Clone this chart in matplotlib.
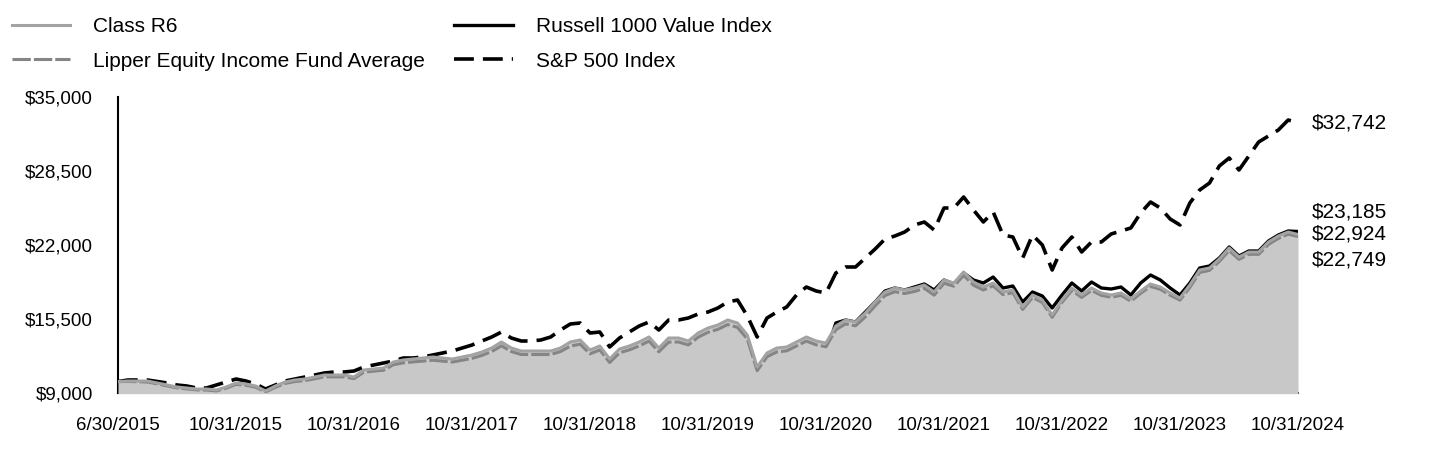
import matplotlib.pyplot as plt
import numpy as np

plt.rcParams['font.family'] = ['Liberation Sans', 'DejaVu Sans']

# growth of $10,000, monthly
class_r6 = [
    10000, 10054, 10054, 10054, 9878, 9703, 9527, 9439, 9351, 9351, 9264, 9527,
    9878, 9791, 9615, 9176, 9615, 9966, 10142, 10230, 10405, 10581, 10581, 10581,
    10405, 11020, 11108, 11196, 11723, 11899, 11987, 12074, 12162, 12074, 11987, 12162,
    12338, 12601, 12953, 13480, 12953, 12689, 12689, 12689, 12689, 12953, 13480, 13656,
    12777, 13128, 11987, 12865, 13128, 13480, 13919, 12953, 13831, 13831, 13568, 14270,
    14710, 14973, 15412, 15149, 14095, 11284, 12514, 12953, 13041, 13480, 13919, 13568,
    13392, 14885, 15412, 15237, 16027, 16993, 17872, 18223, 18048, 18223, 18487, 17872,
    18926, 18662, 19629, 18750, 18311, 18662, 17872, 18048, 16554, 17608, 17169, 15851,
    17169, 18223, 17608, 18223, 17784, 17608, 17784, 17257, 17960, 18575, 18311, 17784,
    17345, 18487, 19804, 19980, 20771, 21737, 20946, 21385, 21385, 22264, 22791, 23142,
    22924,
]

lipper = [
    10000, 10010, 9990, 9960, 9800, 9620, 9450, 9360, 9270, 9260, 9180, 9420,
    9760, 9680, 9510, 9090, 9500, 9840, 10010, 10090, 10250, 10420, 10420, 10420,
    10260, 10830, 10920, 11000, 11480, 11650, 11730, 11800, 11880, 11800, 11720, 11880,
    12040, 12300, 12640, 13140, 12640, 12380, 12380, 12380, 12380, 12640, 13120, 13290,
    12440, 12780, 11680, 12530, 12790, 13130, 13560, 12620, 13470, 13480, 13220, 13900,
    14330, 14590, 15010, 14760, 13740, 10960, 12180, 12610, 12700, 13130, 13560, 13230,
    13060, 14560, 15070, 14900, 15690, 16660, 17560, 17900, 17740, 17920, 18190, 17590,
    18640, 18380, 19330, 18470, 18050, 18410, 17640, 17810, 16340, 17390, 16960, 15650,
    16970, 18000, 17400, 18010, 17580, 17410, 17580, 17060, 17760, 18360, 18110, 17590,
    17160, 18280, 19590, 19770, 20560, 21510, 20740, 21180, 21180, 22050, 22580, 22950,
    22749,
]

russell_value = [
    10000, 9980, 9960, 9930, 9760, 9570, 9390, 9300, 9200, 9200, 9100, 9380,
    9700, 9620, 9440, 8990, 9420, 9800, 9960, 10040, 10200, 10360, 10340, 10330,
    10150, 10790, 10870, 10930, 11380, 11520, 11580, 11640, 11700, 11580, 11560, 11680,
    11850, 12080, 12410, 12900, 12330, 12060, 12090, 12110, 12060, 12310, 12820, 12960,
    12230, 12470, 11380, 12250, 12450, 12780, 13200, 12210, 13070, 13050, 12820, 13490,
    13900, 14150, 14540, 14250, 13180, 10540, 11700, 12050, 12100, 12560, 13020, 12680,
    12500, 15149, 15412, 15237, 16115, 16993, 17960, 18223, 18048, 18311, 18575, 18048,
    18926, 18575, 19541, 18926, 18662, 19189, 18223, 18399, 16993, 17872, 17520, 16466,
    17608, 18662, 17960, 18750, 18223, 18135, 18311, 17608, 18662, 19365, 18926, 18223,
    17608, 18662, 19980, 20156, 20858, 21825, 21034, 21473, 21473, 22352, 22879, 23230,
    23185,
]

sp500 = [
    10000, 10142, 10142, 10142, 10010, 9878, 9703, 9615, 9439, 9439, 9703, 9966,
    10230, 10054, 9791, 9351, 9703, 10054, 10230, 10405, 10581, 10757, 10845, 10845,
    10932, 11284, 11460, 11635, 11811, 12074, 12074, 12162, 12338, 12514, 12689, 12953,
    13216, 13568, 13919, 14358, 13831, 13568, 13568, 13656, 13919, 14534, 15061, 15149,
    14270, 14358, 13041, 13831, 14358, 14885, 15237, 14534, 15412, 15412, 15588, 15939,
    16115, 16466, 16993, 17169, 15764, 13919, 15588, 16115, 16554, 17608, 18311, 17960,
    17784, 19541, 20068, 20068, 20858, 21649, 22527, 22791, 23142, 23757, 24021, 23318,
    25250, 25250, 26217, 25075, 24021, 24899, 22879, 22703, 20858, 22879, 22000, 19804,
    21737, 22703, 21385, 22264, 22264, 22967, 23230, 23494, 24811, 25777, 25250, 24284,
    23757, 25690, 26832, 27446, 28940, 29642, 28588, 29818, 31048, 31575, 32102, 32980,
    32742,
]

tick_labels = ["6/30/2015", "10/31/2015", "10/31/2016", "10/31/2017", "10/31/2018",
               "10/31/2019", "10/31/2020", "10/31/2021", "10/31/2022", "10/31/2023",
               "10/31/2024"]
y_ticks = [9000, 15500, 22000, 28500, 35000]

x = np.arange(len(class_r6))

fig = plt.figure(figsize=(14.4, 4.68), dpi=100)
ax = fig.add_axes([118 / 1440, 75 / 468, 1180 / 1440, 296 / 468])

ax.plot(x, sp500, color="black", linewidth=2.6, linestyle=(0, (5.5, 2.5)),
        label="S&P 500 Index", zorder=2)
ax.plot(x, russell_value, color="black", linewidth=2.4,
        label="Russell 1000 Value Index", zorder=2)
ax.fill_between(x, 0, class_r6, color="#c8c8c8", linewidth=0, zorder=3)
ax.plot(x, lipper, color="#858585", linewidth=2.2, linestyle=(0, (6, 1)),
        label="Lipper Equity Income Fund Average", zorder=4)
ax.plot(x, class_r6, color="#a3a3a3", linewidth=2.2, label="Class R6", zorder=5)

ax.set_xlim(0, len(x) - 1)
ax.set_ylim(9000, 35000)
ax.set_xticks(np.linspace(0, len(x) - 1, len(tick_labels)))
ax.set_xticklabels(tick_labels)
ax.set_yticks(y_ticks)
ax.set_yticklabels([f"${v:,}" for v in y_ticks])
ax.tick_params(axis="x", length=0, pad=17, labelsize=13.5)
ax.tick_params(axis="y", length=0, pad=18, labelsize=13.5)

for side in ["top", "right"]:
    ax.spines[side].set_visible(False)
for side in ["left", "bottom"]:
    ax.spines[side].set_linewidth(1.5)
    ax.spines[side].set_color("black")

# end values
ends = [(sp500[-1], 0), (russell_value[-1], 14), (class_r6[-1], 0), (lipper[-1], -17)]
for val, dy in ends:
    ax.annotate(f"${val:,}", xy=(x[-1], val), xytext=(10, dy), textcoords="offset points",
                va="center", ha="left", fontsize=15, annotation_clip=False)

h, l = ax.get_legend_handles_labels()
order = [3, 2, 1, 0]
fig.legend([h[i] for i in order], [l[i] for i in order], ncol=2, loc="upper left",
           bbox_to_anchor=(12 / 1440, 1 - 17 / 468), frameon=False, fontsize=15,
           handlelength=2.8, handletextpad=1.1, columnspacing=1.4,
           labelspacing=0.75, borderpad=0, borderaxespad=0)

fig.savefig("out.png", dpi=100)
